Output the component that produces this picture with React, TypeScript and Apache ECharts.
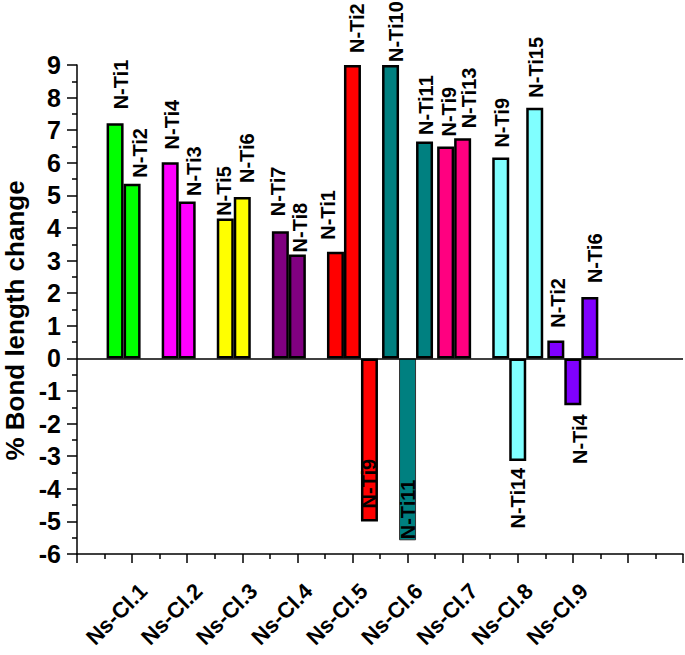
import React, { useEffect, useRef } from 'react';
import * as echarts from 'echarts';

// ---- data ----
const categories = ['Ns-Cl.1', 'Ns-Cl.2', 'Ns-Cl.3', 'Ns-Cl.4', 'Ns-Cl.5', 'Ns-Cl.6', 'Ns-Cl.7', 'Ns-Cl.8', 'Ns-Cl.9'];
const slot1Names = ['N-Ti1', 'N-Ti4', 'N-Ti5', 'N-Ti7', 'N-Ti1', 'N-Ti10', 'N-Ti9', 'N-Ti9', 'N-Ti2'];
const slot1Values = [7.21, 6.02, 4.29, 3.9, 3.27, 9.0, 6.5, 6.16, 0.55];
const slot2Names = ['N-Ti2', 'N-Ti3', 'N-Ti6', 'N-Ti8', 'N-Ti2', 'N-Ti11', 'N-Ti13', 'N-Ti14', 'N-Ti4'];
const slot2Values = [5.36, 4.81, 4.95, 3.19, 9.0, -5.58, 6.75, -3.15, -1.44];
const slot3Names = [null, null, null, null, 'N-Ti9', 'N-Ti11', null, 'N-Ti15', 'N-Ti6'];
const slot3Values = [null, null, null, null, -5.0, 6.65, null, 7.69, 1.88];
const yMin = -6;
const yMax = 9;
const yInterval = 1;

// ---- styles ----
const clusterColors = ['#00FF00', '#FF00FF', '#FFFF00', '#800080', '#FF0000', '#008080', '#FF0080', '#80FFFF', '#8000FF'];
const slot1LabelGap = [14, 12.7, 2.7, 15, 12, 3, 10, 10, 12.7];
const slot1LabelShift = [5.5, 2, -1, -2, -7, 5.5, 3.5, 1, 2.5];
const slot2LabelGap = [6, 5.6, 14, 2, 12, 1, 10, 6.7, 9];
const slot2LabelShift = [7.5, 6.5, 4.7, 2.5, 4.5, 0, 6, 0, 7];
const slot3LabelGap = [0, 0, 0, 0, 13, 6.7, 0, 10, 14];
const slot3LabelShift = [0, 0, 0, 0, 0, 1, 0, 1, 5.5];
const slot2Inside = [false, false, false, false, false, true, false, false, false];
const slot3Inside = [false, false, false, false, true, false, false, false, false];
const slot2ThinBorder = [false, false, false, false, false, true, false, false, false];

const FONT = 'Arial, "Liberation Sans", sans-serif';

function buildSeriesData(
  values: (number | null)[],
  names: (string | null)[],
  gaps: number[],
  shifts: number[],
  inside?: boolean[],
  thin?: boolean[]
) {
  const out: any[] = ['-'];
  values.forEach((v, i) => {
    if (v === null || v === undefined) {
      out.push('-');
      return;
    }
    const isInside = inside ? inside[i] : false;
    const neg = v < 0;
    out.push({
      value: v,
      itemStyle: {
        color: clusterColors[i],
        borderColor: thin && thin[i] ? '#333' : '#000',
        borderWidth: thin && thin[i] ? 1 : 2.5,
      },
      label: {
        show: true,
        formatter: names[i] as string,
        position: isInside ? 'insideBottom' : neg ? 'bottom' : 'top',
        rotate: 90,
        align: neg && !isInside ? 'right' : 'left',
        verticalAlign: 'middle',
        distance: gaps[i],
        offset: [0, shifts[i]],
        color: '#000',
        fontWeight: 'bold',
        fontSize: 20,
        fontFamily: FONT,
      },
    });
  });
  out.push('-', '-');
  return out;
}

export default function App() {
  const ref = useRef<HTMLDivElement>(null);

  useEffect(() => {
    document.body.style.margin = '0';
    if (!ref.current) return;
    const chart = echarts.init(ref.current, undefined, { renderer: 'svg' });
    const axisCats = ['', ...categories, '', ''];

    const option: any = {
      animation: false,
      backgroundColor: '#fff',
      grid: { left: 77, right: 2, top: 65, bottom: 101, containLabel: false, outerBoundsMode: 'none' },
      xAxis: [
        {
          type: 'value',
          min: 0,
          max: axisCats.length - 1,
          interval: 1,
          position: 'bottom',
          axisLine: { show: true, onZero: false, lineStyle: { color: '#000', width: 1.5 } },
          axisTick: { show: true, inside: false, length: 9, lineStyle: { color: '#000', width: 1.5 } },
          minorTick: { show: true, splitNumber: 2, length: 5, lineStyle: { color: '#000', width: 1.5 } },
          splitLine: { show: false },
          minorSplitLine: { show: false },
          axisLabel: {
            formatter: (v: number) => axisCats[Math.round(v)] || '',
            rotate: 45,
            margin: 22,
            verticalAlign: 'top',
            padding: [5, 0, 0, 0],
            color: '#000',
            fontWeight: 'bold',
            fontSize: 22,
            fontFamily: FONT,
          },
        },
        {
          type: 'category',
          data: axisCats,
          boundaryGap: false,
          show: false,
        },
      ],
      yAxis: {
        type: 'value',
        min: yMin,
        max: yMax,
        interval: yInterval,
        name: '% Bond length change',
        nameLocation: 'middle',
        nameGap: 49,
        nameTextStyle: {
          color: '#000',
          fontWeight: 'bold',
          fontSize: 26,
          fontFamily: FONT,
          padding: [0, 22, 0, 0],
        },
        axisLine: { show: true, onZero: false, lineStyle: { color: '#000', width: 1.5 } },
        axisTick: { show: true, inside: false, length: 10, lineStyle: { color: '#000', width: 1.5 } },
        minorTick: { show: true, splitNumber: 2, length: 5, lineStyle: { color: '#000', width: 1.5 } },
        splitLine: { show: false },
        minorSplitLine: { show: false },
        axisLabel: {
          margin: 16,
          color: '#000',
          fontWeight: 'bold',
          fontSize: 25,
          fontFamily: FONT,
        },
      },
      series: [
        {
          type: 'bar',
          xAxisIndex: 1,
          barWidth: 17,
          barGap: '0%',
          data: buildSeriesData(slot1Values, slot1Names, slot1LabelGap, slot1LabelShift),
          markLine: {
            silent: true,
            symbol: ['none', 'none'],
            label: { show: false },
            lineStyle: { color: '#000', width: 1.5, type: 'solid' },
            data: [{ yAxis: 0 }],
          },
        },
        {
          type: 'bar',
          xAxisIndex: 1,
          barWidth: 17,
          barGap: '0%',
          data: buildSeriesData(slot2Values, slot2Names, slot2LabelGap, slot2LabelShift, slot2Inside, slot2ThinBorder),
        },
        {
          type: 'bar',
          xAxisIndex: 1,
          barWidth: 17,
          barGap: '0%',
          data: buildSeriesData(slot3Values, slot3Names, slot3LabelGap, slot3LabelShift, slot3Inside),
        },
      ],
    };
    chart.setOption(option);
    return () => chart.dispose();
  }, []);

  return <div ref={ref} style={{ width: 685, height: 655 }} />;
}
